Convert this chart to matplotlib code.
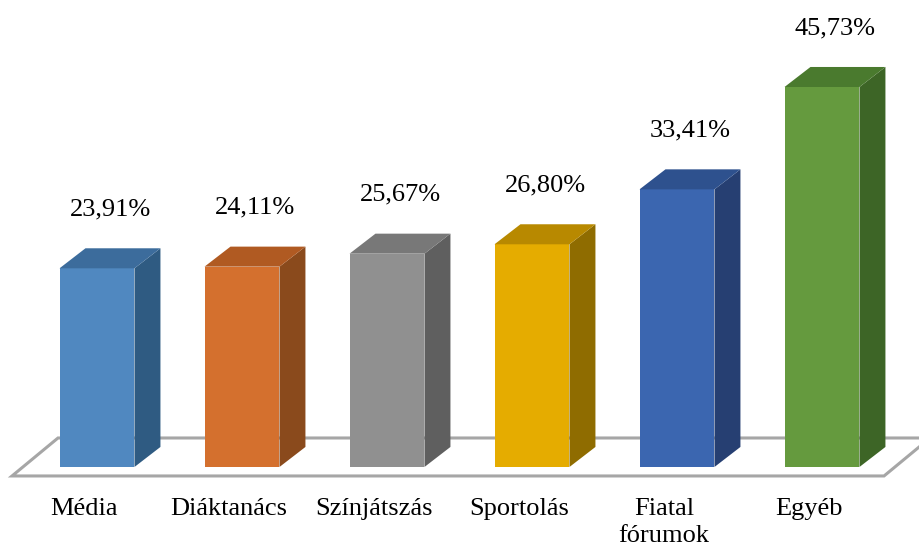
import matplotlib
matplotlib.use("Agg")
import matplotlib.pyplot as plt
from matplotlib.patches import Polygon

# data
categories = ["Média", "Diáktanács", "Színjátszás", "Sportolás", "Fiatal\nfórumok", "Egyéb"]
values = [23.91, 24.11, 25.67, 26.80, 33.41, 45.73]
front_colors = ["#5088C0", "#D4702E", "#909090", "#E5AC00", "#3B66B0", "#659A3E"]
side_colors = ["#2F5B82", "#8A4A1C", "#5F5F5F", "#8F6C00", "#263F72", "#3D6526"]
top_colors = ["#3C6C9C", "#B05A22", "#787878", "#B88900", "#2E518E", "#4A7A2E"]

plt.rcParams['font.family'] = ['Liberation Serif', 'DejaVu Serif']

fig = plt.figure(figsize=(9.19, 5.47), dpi=100)
ax = fig.add_axes([0, 0, 1, 1])
ax.set_xlim(-0.669, 5.669)
ax.set_ylim(-9.63, 56.2)
ax.axis('off')

width = 0.517
ddx, ddy = 0.179, 2.41   # bar depth offset

# floor
floor = Polygon([(-0.586, -1.08), (5.428, -1.08), (5.745, 3.49), (-0.269, 3.49)],
                closed=True, facecolor='white', edgecolor='#A6A6A6', linewidth=2.2, zorder=1)
ax.add_patch(floor)

for i, (v, fc, sc, tc) in enumerate(zip(values, front_colors, side_colors, top_colors)):
    x0 = i - width / 2
    x1 = i + width / 2
    front = Polygon([(x0, 0), (x1, 0), (x1, v), (x0, v)], closed=True,
                    facecolor=fc, edgecolor='none', zorder=3)
    side = Polygon([(x1, 0), (x1 + ddx, ddy), (x1 + ddx, v + ddy), (x1, v)], closed=True,
                   facecolor=sc, edgecolor='none', zorder=3)
    top = Polygon([(x0, v), (x1, v), (x1 + ddx, v + ddy), (x0 + ddx, v + ddy)], closed=True,
                  facecolor=tc, edgecolor='none', zorder=3)
    for p in (front, side, top):
        ax.add_patch(p)
    ax.text(i + 0.09, v + 7.1, f"{v:.2f}%".replace('.', ','), ha='center', va='center',
            fontsize=19, color='black', zorder=4)
    ax.text(i - 0.09, -3.7, categories[i], ha='center', va='top',
            fontsize=19, color='black', linespacing=1.3, zorder=4)

fig.savefig("out.png", dpi=100)
